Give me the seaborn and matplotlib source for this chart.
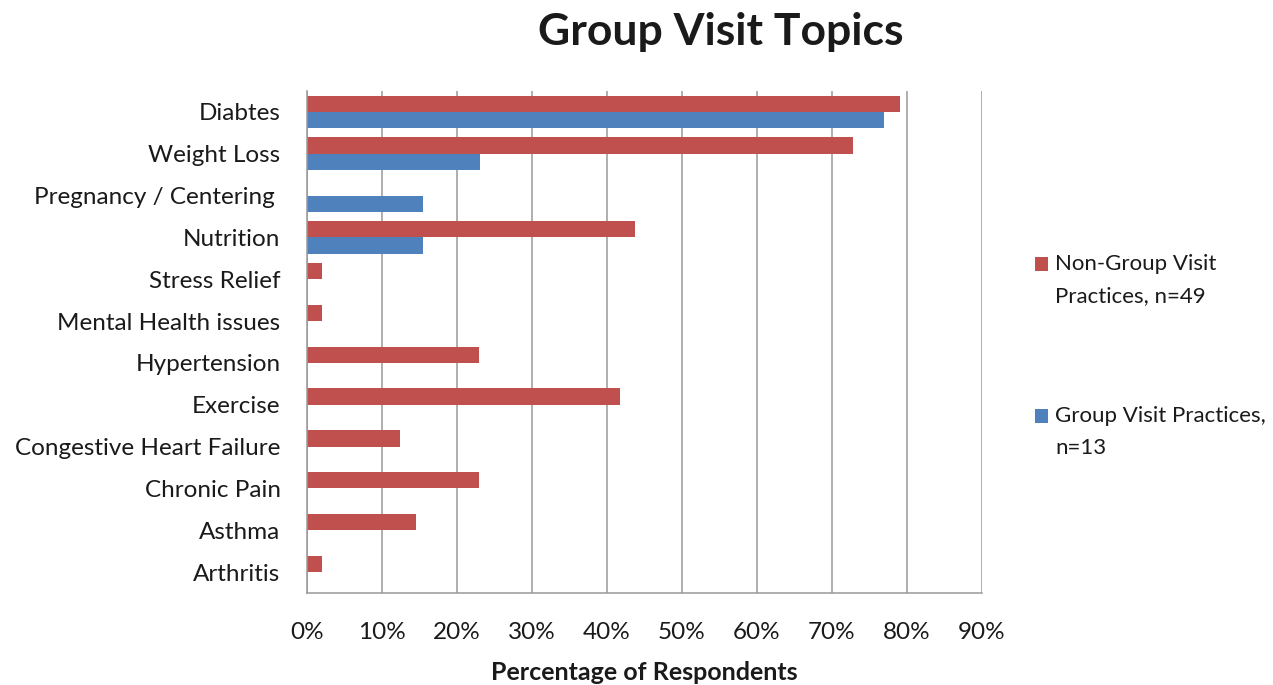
import matplotlib
matplotlib.use("Agg")
import matplotlib.pyplot as plt
import seaborn as sns
import pandas as pd
from matplotlib.ticker import FixedLocator, FuncFormatter

# ---- data ----
categories = ["Diabtes", "Weight Loss", "Pregnancy / Centering ", "Nutrition",
              "Stress Relief", "Mental Health issues", "Hypertension", "Exercise",
              "Congestive Heart Failure", "Chronic Pain", "Asthma", "Arthritis"]
non_group = [79.0, 72.8, 0.0, 43.7, 2.0, 2.0, 22.9, 41.7, 12.4, 22.9, 14.5, 2.0]
group = [76.9, 23.1, 15.4, 15.4, 0.0, 0.0, 0.0, 0.0, 0.0, 0.0, 0.0, 0.0]
series_labels = ["Non-Group Visit\nPractices, n=49", "Group Visit Practices,\nn=13"]
x_ticks = [0, 10, 20, 30, 40, 50, 60, 70, 80, 90]
title = "Group Visit Topics"
x_label = "Percentage of Respondents"

colors = ["#C0504D", "#4F81BD"]

df = pd.DataFrame({
    "Topic": categories * 2,
    "Percent": non_group + group,
    "Series": [series_labels[0]] * len(categories) + [series_labels[1]] * len(categories),
})

sns.set_style("white")
plt.rcParams["font.family"] = ["Lato", "DejaVu Sans"]

fig = plt.figure(figsize=(12.73, 6.85), dpi=100)
ax = fig.add_axes([307 / 1273, 1 - 593 / 685, (982 - 307) / 1273, (593 - 91) / 685])

sns.barplot(data=df, y="Topic", x="Percent", hue="Series", hue_order=series_labels,
            order=categories, palette=colors, orient="h", width=0.78,
            saturation=1, ax=ax, errorbar=None, linewidth=0)

ax.set_xlim(0, 90)
ax.xaxis.set_major_locator(FixedLocator(x_ticks))
ax.xaxis.set_major_formatter(FuncFormatter(lambda v, p: f"{int(round(v))}%"))
ax.grid(axis="x", color="#999999", linewidth=1.1)
ax.grid(axis="y", visible=False)
ax.set_axisbelow(True)

for s in ["top", "right"]:
    ax.spines[s].set_visible(False)
for s in ["left", "bottom"]:
    ax.spines[s].set_color("#999999")
    ax.spines[s].set_linewidth(1.1)

ax.tick_params(axis="x", length=0, pad=21, labelsize=17.5, labelcolor="#1a1a1a")
ax.tick_params(axis="y", length=0, pad=19, labelsize=17.5, labelcolor="#1a1a1a")
ax.set_ylabel("")
ax.set_xlabel(x_label, fontsize=18, fontweight="bold", labelpad=13, color="#1a1a1a")

fig.text(721 / 1273, 1 - 32 / 685, title, ha="center", va="center",
         fontsize=32, fontweight="bold", color="#1a1a1a")

handles, labels = ax.get_legend_handles_labels()
ax.get_legend().remove()
leg = fig.legend(handles, labels, loc="upper left",
                 bbox_to_anchor=(1026 / 1273, 1 - 245 / 685),
                 frameon=False, fontsize=16, handlelength=0.6, handleheight=0.6,
                 handletextpad=0.3, labelspacing=4.5, borderaxespad=0)
for t in leg.get_texts():
    t.set_linespacing(1.75)
    t.set_color("#1a1a1a")
# align legend squares with the first text line (as in the reference)
for h in leg.legend_handles:
    h.set_y(h.get_y() + 11.5)

fig.savefig("out.png", dpi=100)
